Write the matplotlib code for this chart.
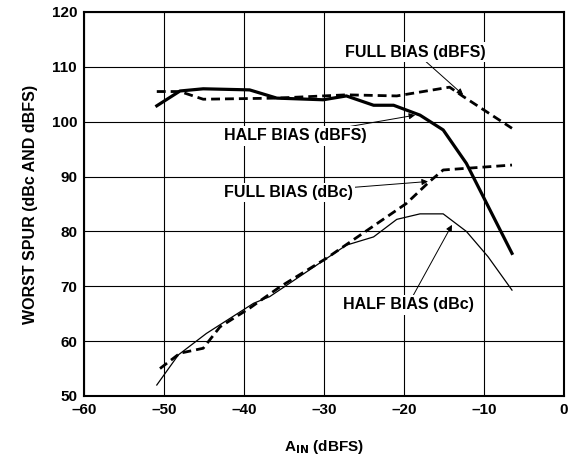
import matplotlib.pyplot as plt

plt.rcParams["font.family"] = ["Liberation Sans", "DejaVu Sans"]
plt.rcParams["font.weight"] = "bold"

# data
half_dbfs_x = [-50.9, -48.0, -45.1, -39.3, -35.9, -30.1, -27.2, -23.8, -21.3, -18.0, -15.1, -12.2, -6.5]
half_dbfs_y = [102.9, 105.6, 106.0, 105.8, 104.3, 104.0, 104.7, 103.0, 103.0, 101.2, 98.5, 92.4, 76.0]

full_dbfs_x = [-50.9, -48.0, -45.1, -35.9, -27.2, -20.9, -14.3, -12.6, -6.5]
full_dbfs_y = [105.5, 105.5, 104.1, 104.3, 104.9, 104.7, 106.3, 104.6, 98.8]

full_dbc_x = [-50.5, -48.0, -45.1, -43.0, -39.3, -35.5, -29.7, -25.5, -19.7, -16.8, -15.1, -6.5]
full_dbc_y = [55.0, 57.8, 58.7, 62.6, 66.0, 69.9, 75.1, 79.3, 85.1, 89.1, 91.2, 92.1]

half_dbc_x = [-50.9, -48.2, -44.7, -38.8, -36.8, -27.2, -23.8, -20.9, -18.0, -15.1, -12.2, -9.5, -6.5]
half_dbc_y = [52.0, 57.5, 61.4, 66.9, 68.1, 77.5, 79.0, 82.2, 83.2, 83.2, 80.0, 75.4, 69.3]

x_ticks = [-60, -50, -40, -30, -20, -10, 0]
y_ticks = [50, 60, 70, 80, 90, 100, 110, 120]

fig = plt.figure(figsize=(5.8, 4.58), dpi=100)
ax = fig.add_axes([0.1448, 0.1354, 0.8276, 0.8384])

ax.plot(half_dbfs_x, half_dbfs_y, color="black", lw=2.3, zorder=3)
ax.plot(full_dbfs_x, full_dbfs_y, color="black", lw=2.0, dashes=(3.2, 1.8), zorder=3)
ax.plot(full_dbc_x, full_dbc_y, color="black", lw=2.0, dashes=(3.2, 1.8), zorder=3)
ax.plot(half_dbc_x, half_dbc_y, color="black", lw=0.9, zorder=3)

box = dict(facecolor="white", edgecolor="none", pad=1.5)
arrow = dict(arrowstyle="-|>", color="black", lw=0.7, mutation_scale=9, shrinkA=0, shrinkB=0)

ax.annotate("FULL BIAS (dBFS)", xy=(-12.6, 104.9), xytext=(-18.6, 112.7),
            ha="center", va="center", fontsize=11.5, fontweight="bold", bbox=box,
            arrowprops=arrow, zorder=4)
ax.annotate("HALF BIAS (dBFS)", xy=(-18.6, 101.2), xytext=(-33.6, 97.4),
            ha="center", va="center", fontsize=11.5, fontweight="bold", bbox=box,
            arrowprops=arrow, zorder=4)
ax.annotate("FULL BIAS (dBc)", xy=(-17.0, 89.1), xytext=(-34.5, 87.1),
            ha="center", va="center", fontsize=11.5, fontweight="bold", bbox=box,
            arrowprops=arrow, zorder=4)
ax.annotate("HALF BIAS (dBc)", xy=(-14.0, 81.2), xytext=(-19.5, 66.6),
            ha="center", va="center", fontsize=11.5, fontweight="bold", bbox=box,
            arrowprops=arrow, zorder=4)

ax.set_xlim(-60, 0)
ax.set_ylim(50, 120)
ax.set_xticks(x_ticks)
ax.set_yticks(y_ticks)
ax.set_xticklabels(["\u2013" + str(-t) if t < 0 else str(t) for t in x_ticks])
ax.tick_params(length=0, labelsize=11, pad=5)
ax.grid(True, color="black", lw=0.8, zorder=1)
for s in ax.spines.values():
    s.set_linewidth(1.5)

ax.set_xlabel(r"A$_\mathbf{IN}$ (dBFS)", fontsize=11, fontweight="bold", labelpad=15)
ax.set_ylabel("WORST SPUR (dBc AND dBFS)", fontsize=11.5, fontweight="bold", labelpad=10)

plt.savefig("out.png", dpi=100)
